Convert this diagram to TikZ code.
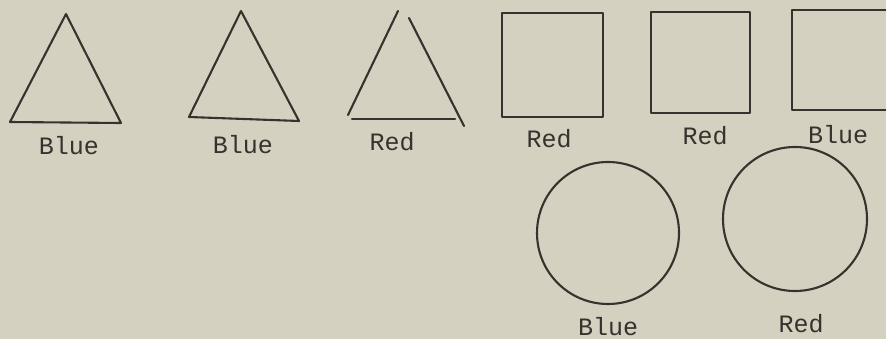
\documentclass[tikz,border=0pt]{standalone}
\usepackage{fontspec}
\newfontfamily\labelfont{Liberation Mono}
\usepackage{xcolor}
\usepackage{tikz}
\definecolor{paper}{RGB}{212,209,193}
\definecolor{ink}{RGB}{55,50,45}

\begin{document}
\begin{tikzpicture}[
    x=1pt, y=-1pt,
    outline/.style={line width=2.1pt, draw=ink, line join=round, line cap=round},
    lbl/.style={font=\labelfont\fontsize{25}{25}\selectfont, text=ink, inner sep=0pt}
]
\fill[paper] (0,0) rectangle (886,339);
\useasboundingbox (0,0) rectangle (886,339);
\clip (0,0) rectangle (886,339);

% triangles
\draw[outline] (66,14) -- (10,122) -- (121,123) -- cycle;
\draw[outline] (241,11) -- (189,117) -- (299,121) -- cycle;
\draw[outline] (398,11) -- (348,115);
\draw[outline] (409,18) -- (464,126);
\draw[outline] (352,119) -- (455,119);

% squares
\draw[outline] (502,13) rectangle (603,117);
\draw[outline] (651,12) rectangle (750,113);
\draw[outline] (792,10) rectangle (910,110);

% circles
\draw[outline] (608,233) circle (71);
\draw[outline] (795,219) circle (72);

% labels
\node[lbl] (tri1)  at (69,146)  {Blue};
\node[lbl] (tri2)  at (243,145) {Blue};
\node[lbl] (tri3)  at (392,142) {Red};
\node[lbl] (sq1)   at (549,139) {Red};
\node[lbl] (sq2)   at (705,136) {Red};
\node[lbl] (sq3)   at (838,135) {Blue};
\node[lbl] (circ1) at (608,327) {Blue};
\node[lbl] (circ2) at (801,324) {Red};
\end{tikzpicture}
\end{document}
